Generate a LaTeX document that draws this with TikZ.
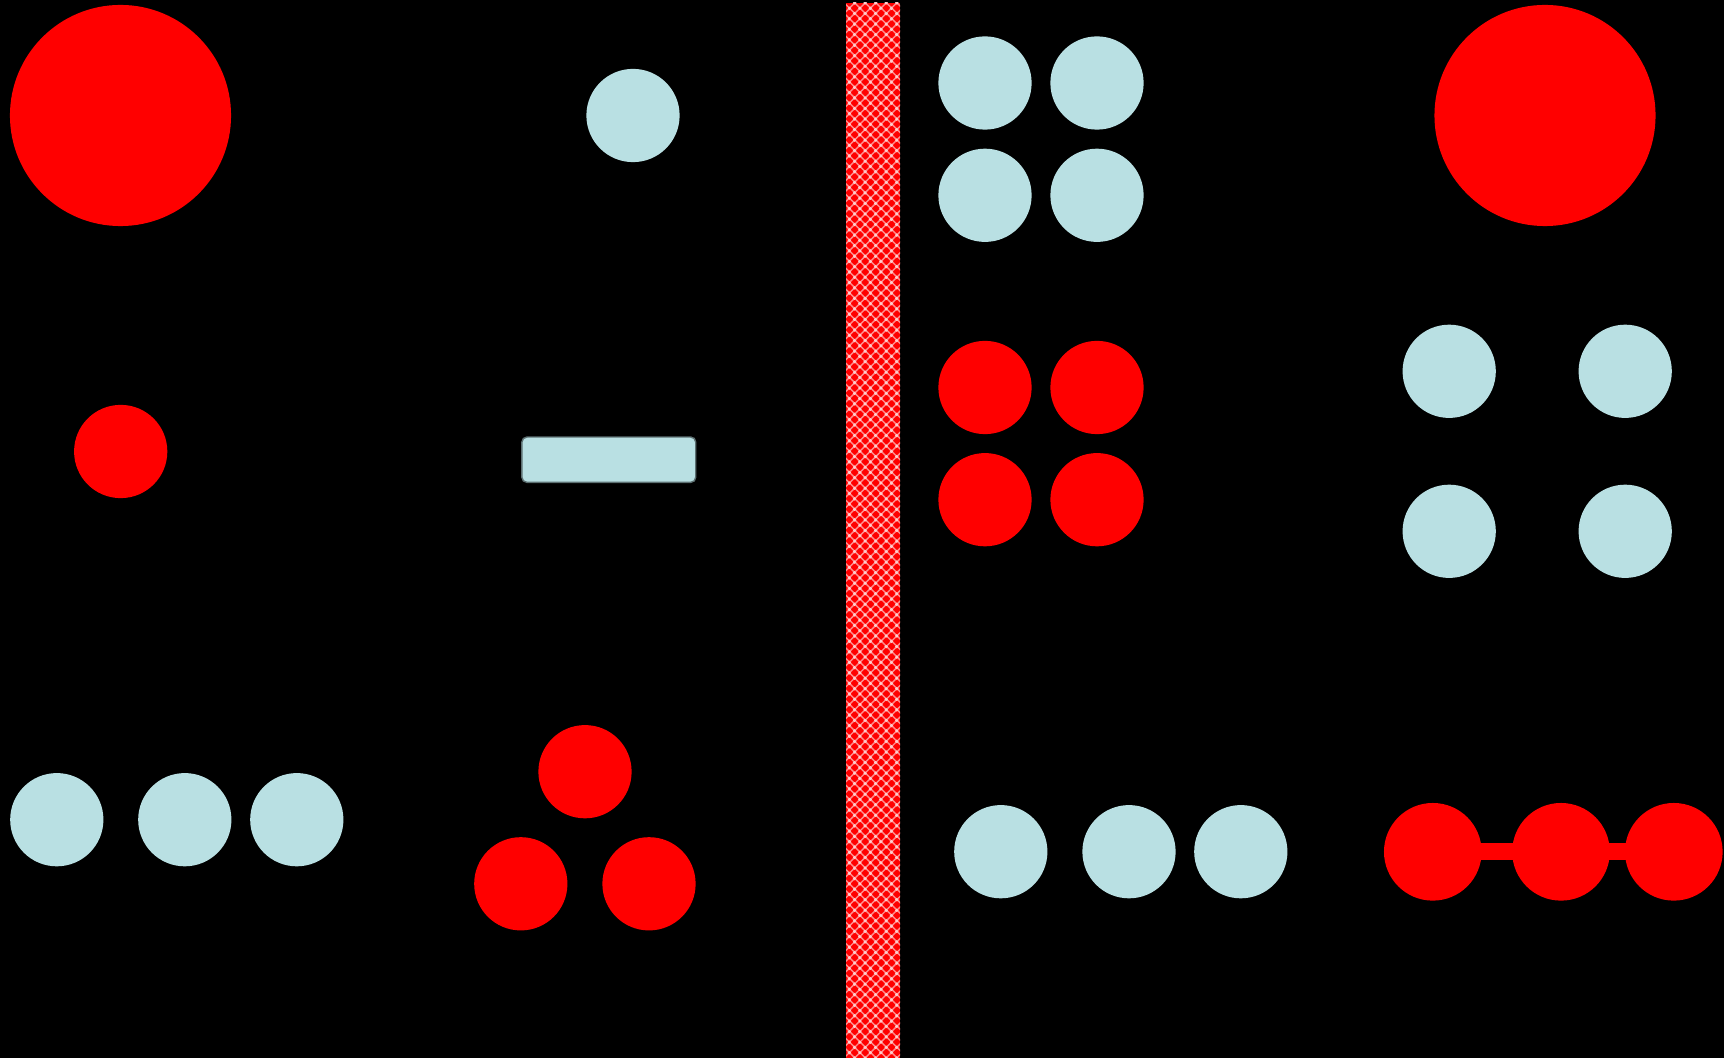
\documentclass[tikz,border=0pt]{standalone}
\usetikzlibrary{patterns}
\definecolor{ionblue}{RGB}{185,224,227}
\definecolor{ionred}{RGB}{255,0,0}

\begin{document}
\begin{tikzpicture}[x=0.01cm, y=-0.01cm,
        anion/.style={circle, fill=ionblue, inner sep=0pt, outer sep=0pt, minimum size=0.932cm},
        cation/.style={circle, fill=ionred, inner sep=0pt, outer sep=0pt, minimum size=0.932cm},
        bigion/.style={circle, fill=ionred, inner sep=0pt, outer sep=0pt, minimum size=2.21cm},
        link/.style={ionred, line width=0.17cm, shorten <=-0.03cm, shorten >=-0.03cm}]
    % black page
    \fill[black] (0,0) rectangle (1724,1058);
    \useasboundingbox (0,0) rectangle (1724,1058);

    % left side
    \node[bigion] (bigL) at (120.5,115.5) {};
    \node[anion] (topL) at (633,115.5) {};
    \node[cation] (smallL) at (120.7,451.5) {};
    \node[fill=ionblue, draw=ionblue!50!black, line width=0.4pt, rounded corners=0.05cm,
          inner sep=0pt, minimum width=1.737cm, minimum height=0.453cm] (slab) at (608.8,459.7) {};
    \foreach \x [count=\i] in {56.8,184.8,296.8} {
        \node[anion] (rowL\i) at (\x,819.7) {};
    }
    \node[cation] (triA) at (585,771.7) {};
    \node[cation] (triB) at (520.8,883.8) {};
    \node[cation] (triC) at (649,883.8) {};

    % membrane
    \fill[ionred] (846,3) rectangle (900,1058);
    \fill[pattern=crosshatch, pattern color=white!55!ionred] (846,3) rectangle (900,1058);
    \fill[pattern=crosshatch dots, pattern color=white!80!ionred] (846,3) rectangle (900,1058);

    % right side
    \foreach \x [count=\i] in {985,1097} {
        \foreach \y [count=\j] in {83,195.3} {
            \node[anion] (quadB\i\j) at (\x,\y) {};
        }
        \foreach \y [count=\j] in {387.5,499.7} {
            \node[cation] (quadR\i\j) at (\x,\y) {};
        }
    }
    \node[bigion] (bigR) at (1545,115.5) {};
    \foreach \x [count=\i] in {1449.2,1625.2} {
        \foreach \y [count=\j] in {371.3,531.3} {
            \node[anion] (spread\i\j) at (\x,\y) {};
        }
    }
    \foreach \x [count=\i] in {1000.8,1129,1240.8} {
        \node[anion] (rowR\i) at (\x,851.7) {};
    }

    % linked chain
    \node[cation, minimum size=0.976cm] (chainA) at (1432.8,851.8) {};
    \node[cation, minimum size=0.976cm] (chainB) at (1561,851.8) {};
    \node[cation, minimum size=0.976cm] (chainC) at (1673.8,851.8) {};
    \draw[link] (chainA) -- (chainB);
    \draw[link] (chainB) -- (chainC);
\end{tikzpicture}
\end{document}
